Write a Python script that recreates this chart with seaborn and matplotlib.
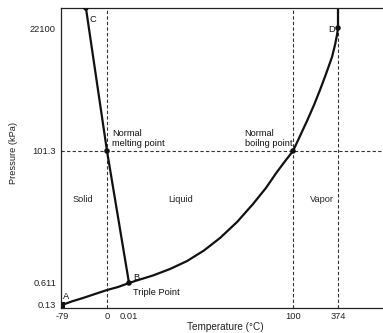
import numpy as np
import pandas as pd
import matplotlib
matplotlib.use('Agg')
import matplotlib.pyplot as plt
import seaborn as sns

# tick values and labels
temp_ticks = [-79, 0, 0.01, 100, 374]
temp_labels = ['-79', '0', '0.01', '100', '374']
press_ticks = [0.13, 0.611, 101.3, 22100]
press_labels = ['0.13', '0.611', '101.3', '22100']

# vapour pressure curve A -> B -> normal boiling point -> D
vap_t = [-79, -61.4, -42, -21.1, 0, 0.005, 0.01, 6.7, 14.6, 25.0, 35.4, 45.7, 55.5, 65.9, 75.6, 83.5,
         90.2, 95.7, 100, 142.6, 185.2, 227.9, 264.4, 300.9, 337.5, 355.7, 367.9, 374, 374]
vap_p = [0.13, 0.168, 0.213, 0.282, 0.373, 0.461, 0.611, 0.70, 0.817, 1.05, 1.43, 2.15, 3.49, 6.48, 13.0, 24.2,
         44.9, 71.5, 101.3, 195, 377, 759, 1464, 2949, 6209, 10500, 16300, 22100, 60000]

# melting curve C -> normal melting point -> B
melt_t = [-37, 0, 0.01]
melt_p = [53700, 101.3, 0.611]

# labelled points
pt_names = ['A', 'B', 'C', 'D', 'melt', 'boil']
pt_t = [-79, 0.01, -37, 374, 0, 100]
pt_p = [0.13, 0.611, 53700, 22100, 101.3, 101.3]

# schematic (non-linear) axes: where each tick value sits on the drawing
X_VAL = [-158, -79, 0, 0.01, 100, 374, 648]
X_POS = [17, 62, 107, 129, 293, 338, 383]
Y_LOG = [np.log10(0.13) - 1, np.log10(0.13), np.log10(0.611), np.log10(101.3), np.log10(22100), np.log10(22100) + 1]
Y_POS = [-5, 28, 50, 182, 305, 357]


def fx(t):
    return np.interp(t, X_VAL, X_POS)


def fx_inv(p):
    return np.interp(p, X_POS, X_VAL)


def fy(v):
    v = np.clip(np.asarray(v, dtype=float), 1e-9, None)
    return np.interp(np.log10(v), Y_LOG, Y_POS)


def fy_inv(p):
    return 10 ** np.interp(p, Y_POS, Y_LOG)


sns.set_style('white')
plt.rcParams['font.family'] = ['Liberation Sans', 'DejaVu Sans']

fig = plt.figure(figsize=(3.83, 3.33), dpi=100)
ax = fig.add_axes([61 / 383, 25 / 333, 322 / 383, 300 / 333])
ax.set_xscale('function', functions=(fx, fx_inv))
ax.set_yscale('function', functions=(fy, fy_inv))

df_vap = pd.DataFrame({'T': vap_t, 'P': vap_p})
df_melt = pd.DataFrame({'T': melt_t, 'P': melt_p})
df_pts = pd.DataFrame({'name': pt_names, 'T': pt_t, 'P': pt_p})

sns.lineplot(data=df_vap, x='T', y='P', sort=False, estimator=None, color='#111111', linewidth=1.6, ax=ax)
sns.lineplot(data=df_melt, x='T', y='P', sort=False, estimator=None, color='#111111', linewidth=1.6, ax=ax)

# dashed guide lines
dash = dict(color='#333333', linewidth=0.8, linestyle=(0, (3, 2)), zorder=1)
for t in [0, 100, 374]:
    ax.axvline(t, **dash)
ax.axhline(101.3, **dash)

sns.scatterplot(data=df_pts[df_pts['name'] != 'A'], x='T', y='P', color='#111111', s=16, edgecolor='none', ax=ax, zorder=5)
sns.scatterplot(data=df_pts[df_pts['name'] == 'A'], x='T', y='P', color='#111111', marker='s', s=20, edgecolor='none', ax=ax, zorder=5)

ax.set_xlim(fx_inv(61), fx_inv(383))
ax.set_ylim(fy_inv(25), fy_inv(325))
ax.set_xticks(temp_ticks, temp_labels)
ax.set_yticks(press_ticks, press_labels)
ax.minorticks_off()
ax.tick_params(length=0, labelsize=6.7, colors='#222222')
ax.tick_params(axis='x', pad=3.2)
ax.tick_params(axis='y', pad=3.6)

for side in ['left', 'top', 'bottom']:
    ax.spines[side].set_color('#222222')
    ax.spines[side].set_linewidth(0.9)
ax.spines['right'].set_visible(False)

ax.set_xlabel('Temperature (°C)', fontsize=7.2, color='#222222')
ax.set_ylabel('Pressure (kPa)', fontsize=6.7, color='#222222')
ax.xaxis.set_label_coords(0.509, -0.045)
ax.yaxis.set_label_coords(-0.135, 0.517)

fs = 6.7
kw = dict(textcoords='offset points', fontsize=fs, color='#111111')
ax.annotate('A', (-79, 0.13), xytext=(0.7, 5.8), ha='left', va='center', **kw)
ax.annotate('B', (0.01, 0.611), xytext=(2.9, 4.3), ha='left', va='center', **kw)
ax.annotate('Triple Point', (0.01, 0.611), xytext=(2.9, -6.5), ha='left', va='center', **kw)
ax.annotate('C', (-37, 53700), xytext=(2.9, -8), ha='left', va='center', **kw)
ax.annotate('D', (374, 22100), xytext=(-2.5, -1.4), ha='right', va='center', **kw)
ax.annotate('Normal\nmelting point', (0, 101.3), xytext=(3.6, 9), ha='left', va='center', linespacing=1.25, **kw)
ax.annotate('Normal\nboilng point', (100, 101.3), xytext=(-0.7, 9), ha='right', va='center', multialignment='left', linespacing=1.25, **kw)

ax.text((83 - 61) / 322, (308 - 200) / 300, 'Solid', transform=ax.transAxes, ha='center', va='center', fontsize=fs)
ax.text((181 - 61) / 322, (308 - 200) / 300, 'Liquid', transform=ax.transAxes, ha='center', va='center', fontsize=fs)
ax.text((322 - 61) / 322, (308 - 200) / 300, 'Vapor', transform=ax.transAxes, ha='center', va='center', fontsize=fs)

fig.savefig('out.png', dpi=100)
